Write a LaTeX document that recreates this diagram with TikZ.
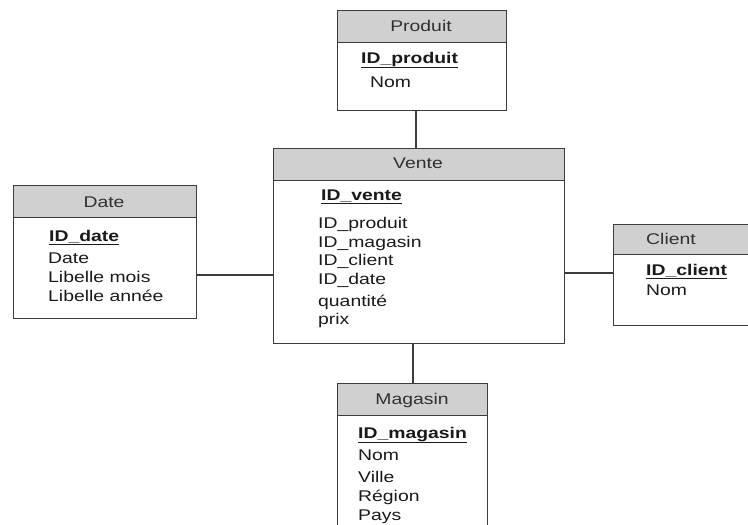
\documentclass[tikz,border=0pt]{standalone}
\usepackage{fontspec}
\setmainfont{Liberation Sans}[FakeStretch=1.25]
\definecolor{framegray}{HTML}{3C3C3C}
\definecolor{headgray}{HTML}{D0D0D0}
\definecolor{titlegray}{HTML}{303030}
\definecolor{fieldblack}{HTML}{1A1A1A}
\begin{document}
\begin{tikzpicture}[x=1pt,y=-1pt,
  table/.style={draw=framegray, line width=1.3pt, fill=white, anchor=north west, inner sep=0pt},
  head/.style={draw=framegray, line width=1.3pt, fill=headgray, anchor=north west, inner sep=0pt},
  title/.style={anchor=base, inner sep=0pt, text=titlegray, font=\fontsize{15.5}{18}\selectfont},
  field/.style={anchor=base west, inner sep=0pt, text=fieldblack, font=\fontsize{15.5}{18}\selectfont},
  key/.style={field, font=\fontsize{15.5}{18}\selectfont\bfseries},
  link/.style={draw=framegray, line width=1.5pt}]
\useasboundingbox (0,0) rectangle (748,525);
\clip (0,0) rectangle (748,525);

% table frames
\node[table, minimum width=169pt, minimum height=100pt] (produit) at (337,10) {};
\node[table, minimum width=291pt, minimum height=195pt] (vente) at (273,148) {};
\node[table, minimum width=183pt, minimum height=133pt] (date) at (13,185) {};
\node[table, minimum width=140pt, minimum height=101pt] (client) at (613,224) {};
\node[table, minimum width=150pt, minimum height=150pt] (magasin) at (337,383) {};

% header bands
\node[head, minimum width=169pt, minimum height=32pt] (produitH) at (337,10) {};
\node[head, minimum width=291pt, minimum height=32pt] (venteH) at (273,148) {};
\node[head, minimum width=183pt, minimum height=32pt] (dateH) at (13,185) {};
\node[head, minimum width=140pt, minimum height=30pt] (clientH) at (613,224) {};
\node[head, minimum width=150pt, minimum height=32pt] (magasinH) at (337,383) {};

% titles
\node[title] (produitT) at (421,31) {Produit};
\node[title] (venteT) at (418,168) {Vente};
\node[title] (dateT) at (104,207) {Date};
\node[title] (clientT) at (671,244) {Client};
\node[title] (magasinT) at (412,404) {Magasin};

% Produit fields
\node[key] (p1) at (361,63) {\underline{ID\_produit}};
\node[field] (p2) at (370,87) {Nom};

% Vente fields
\node[key] (v1) at (321,200) {\underline{ID\_vente}};
\node[field] (v2) at (318,228) {ID\_produit};
\node[field] (v3) at (318,247) {ID\_magasin};
\node[field] (v4) at (318,265) {ID\_client};
\node[field] (v5) at (318,284) {ID\_date};
\node[field] (v6) at (318,306) {quantité};
\node[field] (v7) at (318,324) {prix};

% Date fields
\node[key] (d1) at (49,241) {\underline{ID\_date}};
\node[field] (d2) at (48,263) {Date};
\node[field] (d3) at (48,282) {Libelle mois};
\node[field] (d4) at (48,301) {Libelle année};

% Client fields
\node[key] (c1) at (646,275) {\underline{ID\_client}};
\node[field] (c2) at (646,295) {Nom};

% Magasin fields
\node[key] (m1) at (358,438) {\underline{ID\_magasin}};
\node[field] (m2) at (358,460) {Nom};
\node[field] (m3) at (358,482) {Ville};
\node[field] (m4) at (358,501) {Région};
\node[field] (m5) at (358,520) {Pays};

% connectors
\coordinate (pv) at (416,0);
\coordinate (vm) at (413,0);
\coordinate (dv) at (0,275);
\coordinate (vc) at (0,273);
\draw[link] (produit.south -| pv) -- (vente.north -| pv);
\draw[link] (vente.south -| vm) -- (magasin.north -| vm);
\draw[link] (date.east |- dv) -- (vente.west |- dv);
\draw[link] (vente.east |- vc) -- (client.west |- vc);
\end{tikzpicture}
\end{document}
